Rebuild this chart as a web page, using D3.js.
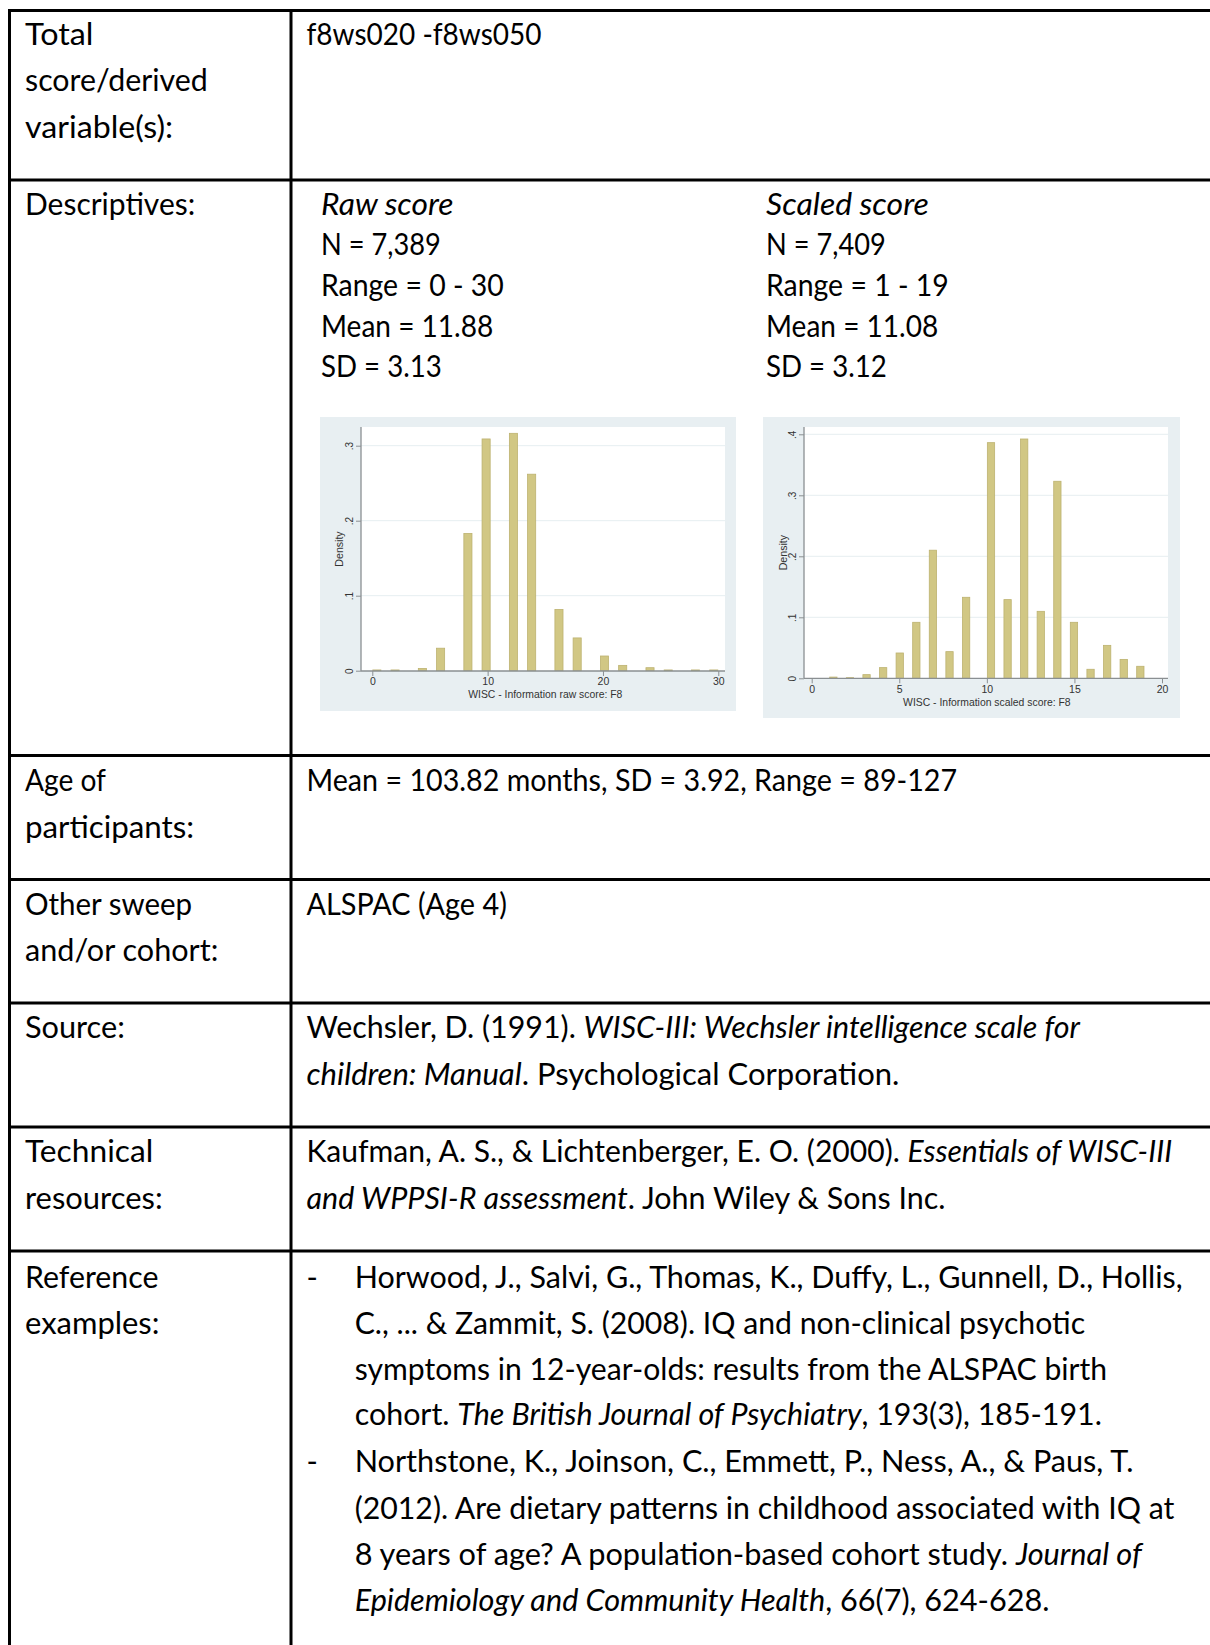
<!DOCTYPE html>
<html>
<head>
<meta charset="utf-8">
<script src="https://cdn.jsdelivr.net/npm/d3@7"></script>
<style>
  html, body { margin: 0; padding: 0; background: #fff; }
  svg { display: block; }
</style>
</head>
<body>
<svg id="page" width="1210" height="1645"></svg>
<script>
// ---------------- DATA ----------------
// Raw score histogram (Stata, 38 bins over 0-30): observed score values and bar densities
const rawScores  = [0, 2, 4, 6, 8, 10, 12, 14, 16, 18, 20, 22, 24, 26, 28, 30];
const rawDensity = [0.001, 0.001, 0.003, 0.030, 0.183, 0.309, 0.3165, 0.262, 0.0817, 0.0437, 0.0196, 0.0071, 0.004, 0.001, 0.001, 0.001];
const rawBinRange = [0, 30];
const rawBinCount = 38;
const rawXTicks = [0, 10, 20, 30];
const rawYTicks = [0, 0.1, 0.2, 0.3];
const rawXTitle = "WISC - Information raw score: F8";

// Scaled score histogram (38 bins over 1-19)
const scaledScores  = [1, 2, 3, 4, 5, 6, 7, 8, 9, 10, 11, 12, 13, 14, 15, 16, 17, 18, 19];
const scaledDensity = [0.002, 0.001, 0.006, 0.0175, 0.0415, 0.0918, 0.210, 0.0437, 0.1328, 0.3863, 0.129, 0.3923, 0.1098, 0.323, 0.0918, 0.0148, 0.054, 0.031, 0.0197];
const scaledBinRange = [1, 19];
const scaledBinCount = 38;
const scaledXTicks = [0, 5, 10, 15, 20];
const scaledYTicks = [0, 0.1, 0.2, 0.3, 0.4];
const scaledXTitle = "WISC - Information scaled score: F8";

const yTitle = "Density";

// ---------------- PAGE TEXT ----------------
const rawDesc    = ["N = 7,389", "Range = 0 - 30", "Mean = 11.88", "SD = 3.13"];
const scaledDesc = ["N = 7,409", "Range = 1 - 19", "Mean = 11.08", "SD = 3.12"];

// ---------------- LAYOUT ----------------
const svg = d3.select("#page");
const FONT = "Lato, 'Source Sans Pro', 'Noto Sans', sans-serif";
const CHARTFONT = "'Liberation Sans', Arial, sans-serif";
const K = 1210 / 1153; // preview-to-page factor used for measured line ends

const probe = svg.append("text").attr("font-family", FONT).attr("font-size", 27)
  .text("Horwood, J., Salvi, G., Thomas, K., Duffy, L., Gunnell, D., Hollis,");
const pw = probe.node().getComputedTextLength();
probe.remove();
const FS = Math.max(22, Math.min(32, 27 * 828 / pw));
const BASE = FS * 0.35;

// table lines
const colX = [9.5, 291];
const rowY = [10.5, 180, 755.5, 879.5, 1003, 1127, 1251];
const LW = 3;
const g = svg.append("g");
rowY.forEach(y => g.append("line").attr("x1", colX[0] - LW/2).attr("x2", 1210).attr("y1", y).attr("y2", y)
  .attr("stroke", "#000").attr("stroke-width", LW));
colX.forEach(x => g.append("line").attr("x1", x).attr("x2", x).attr("y1", rowY[0]).attr("y2", 1645)
  .attr("stroke", "#000").attr("stroke-width", LW));

// x: left, cy: visual centre, segs, endS: measured right end (preview px)
function textLine(x, cy, segs, endS) {
  const t = svg.append("text").attr("x", x).attr("y", cy + BASE)
    .attr("font-family", FONT).attr("font-size", FS).attr("fill", "#000");
  if (typeof segs === "string") segs = [[segs, false]];
  segs.forEach(([s, it]) => {
    t.append("tspan").attr("font-style", it ? "italic" : "normal").text(s);
  });
  if (endS) {
    const target = endS * K - x;
    const cur = t.node().getComputedTextLength();
    if (Math.abs(target - cur) / cur < 0.15) {
      t.attr("textLength", target).attr("lengthAdjust", "spacingAndGlyphs");
    }
  }
  return t;
}

const c1 = 25, c2 = 306.5;
// Row 1
textLine(c1, 34.6, "Total", 89);
textLine(c1, 80.8, "score/derived", 198);
textLine(c1, 127, "variable(s):", 165);
textLine(c2, 34.6, "f8ws020 -f8ws050", 516);
// Row 2
textLine(c1, 204.6, "Descriptives:", 186);
const descY = [204.6, 244.5, 285.4, 326.4, 366.2];
const rawEnds = [420, 480, 470, 421];
const scaledEnds = [844, 904, 894, 845];
textLine(321, descY[0], [["Raw score", true]], 432);
rawDesc.forEach((s, i) => textLine(321, descY[i + 1], s, rawEnds[i]));
textLine(766, descY[0], [["Scaled score", true]], 885);
scaledDesc.forEach((s, i) => textLine(766, descY[i + 1], s, scaledEnds[i]));
// Row 3
textLine(c1, 780.8, "Age of", 101); textLine(c1, 826.9, "participants:", 185);
textLine(c2, 780.8, "Mean = 103.82 months, SD = 3.92, Range = 89-127", 912);
// Row 4
textLine(c1, 904.6, "Other sweep", 183); textLine(c1, 950.8, "and/or cohort:", 208);
textLine(c2, 904.6, "ALSPAC (Age 4)", 483);
// Row 5
textLine(c1, 1027.4, "Source:", 119);
textLine(c2, 1027.4, [["Wechsler, D. (1991). ", false], ["WISC-III: Wechsler intelligence scale for", true]], 1029);
textLine(c2, 1074.6, [["children: Manual", true], [". Psychological Corporation.", false]], 857);
// Row 6
textLine(c1, 1151.2, "Technical", 146); textLine(c1, 1198.4, "resources:", 155);
textLine(c2, 1151.2, [["Kaufman, A. S., & Lichtenberger, E. O. (2000). ", false], ["Essentials of WISC-III", true]], 1117);
textLine(c2, 1198.4, [["and WPPSI-R assessment", true], [". John Wiley & Sons Inc.", false]], 901);
// Row 7
textLine(c1, 1277.1, "Reference", 151); textLine(c1, 1323.3, "examples:", 152);
const refX = 354.7;
const refLines = [
  [1277.1, [["Horwood, J., Salvi, G., Thomas, K., Duffy, L., Gunnell, D., Hollis,", false]], 1127],
  [1323.3, [["C., ... & Zammit, S. (2008). IQ and non-clinical psychotic", false]], 1034],
  [1369.5, [["symptoms in 12-year-olds: results from the ALSPAC birth", false]], 1055],
  [1414.6, [["cohort. ", false], ["The British Journal of Psychiatry", true], [", 193(3), 185-191.", false]], 1050],
  [1461.8, [["Northstone, K., Joinson, C., Emmett, P., Ness, A., & Paus, T.", false]], 1080],
  [1508.0, [["(2012). Are dietary patterns in childhood associated with IQ at", false]], 1119],
  [1554.2, [["8 years of age? A population-based cohort study. ", false], ["Journal of", true]], 1088],
  [1600.3, [["Epidemiology and Community Health", true], [", 66(7), 624-628.", false]], 1000]
];
refLines.forEach(([y, segs, e]) => textLine(refX, y, segs, e));
textLine(c2, 1277.1, "-"); textLine(c2, 1461.8, "-");

// ---------------- HISTOGRAMS ----------------
function histogram(cfg) {
  const gg = svg.append("g");
  gg.append("rect").attr("x", cfg.panel[0]).attr("y", cfg.panel[1])
    .attr("width", cfg.panel[2]).attr("height", cfg.panel[3]).attr("fill", "#e8eff2");
  const [px0, px1, py0, py1] = cfg.plot;
  gg.append("rect").attr("x", px0).attr("y", py0).attr("width", px1 - px0).attr("height", py1 - py0)
    .attr("fill", "#fff");

  const x = d3.scaleLinear().domain(cfg.xDomain).range(cfg.xRange);
  const y = d3.scaleLinear().domain(cfg.yDomain).range(cfg.yRange);

  gg.selectAll(".grid").data(cfg.yTicks.filter(d => d > 0)).join("line")
    .attr("x1", px0).attr("x2", px1).attr("y1", d => y(d)).attr("y2", d => y(d))
    .attr("stroke", "#e6eef1").attr("stroke-width", 1);

  const [lo, hi] = cfg.binRange;
  const w = (hi - lo) / cfg.binCount;
  const bars = cfg.scores.map((s, i) => {
    const k = Math.min(cfg.binCount - 1, Math.floor((s - lo) / w + 1e-9));
    return { x0: lo + k * w, x1: lo + (k + 1) * w, d: cfg.density[i] };
  });
  gg.selectAll(".bar").data(bars).join("rect")
    .attr("x", d => x(d.x0) + 0.5).attr("width", d => x(d.x1) - x(d.x0) - 1)
    .attr("y", d => y(d.d)).attr("height", d => y(0) - y(d.d))
    .attr("fill", "#d1c784").attr("stroke", "#bdb270").attr("stroke-width", 0.8);

  const axisColor = "#8a8f92";
  gg.append("line").attr("x1", px0).attr("x2", px0).attr("y1", py0).attr("y2", py1)
    .attr("stroke", axisColor).attr("stroke-width", 1.3);
  gg.append("line").attr("x1", px0).attr("x2", px1).attr("y1", py1).attr("y2", py1)
    .attr("stroke", axisColor).attr("stroke-width", 1.3);

  const yAx = gg.append("g").attr("transform", `translate(${px0},0)`)
    .call(d3.axisLeft(y).tickValues(cfg.yTicks).tickSize(5).tickPadding(4)
      .tickFormat(d => d === 0 ? "0" : d3.format(".1f")(d).replace(/^0/, "")));
  yAx.select(".domain").remove();
  yAx.selectAll(".tick line").attr("stroke", axisColor);
  yAx.selectAll(".tick text").attr("font-family", CHARTFONT).attr("font-size", 10).attr("fill", "#333")
    .attr("text-anchor", "middle").attr("x", null).attr("dy", null)
    .attr("transform", "translate(-12,0) rotate(-90)").attr("dominant-baseline", "central");

  const xAx = gg.append("g").attr("transform", `translate(0,${py1})`)
    .call(d3.axisBottom(x).tickValues(cfg.xTicks).tickSize(5).tickPadding(2).tickFormat(d3.format("d")));
  xAx.select(".domain").remove();
  xAx.selectAll(".tick line").attr("stroke", axisColor);
  xAx.selectAll(".tick text").attr("font-family", CHARTFONT).attr("font-size", 10.5).attr("fill", "#333");

  gg.append("text").attr("x", (cfg.xRange[0] + cfg.xRange[1]) / 2).attr("y", cfg.xTitleY)
    .attr("text-anchor", "middle").attr("font-family", CHARTFONT).attr("font-size", 10.4).attr("fill", "#333")
    .text(cfg.xTitle);
  gg.append("text").attr("transform", `translate(${cfg.yTitleX},${(py0 + py1) / 2}) rotate(-90)`)
    .attr("text-anchor", "middle").attr("dominant-baseline", "central")
    .attr("font-family", CHARTFONT).attr("font-size", 10.6).attr("fill", "#333").text(yTitle);
}

histogram({
  panel: [320, 417, 416, 294],
  plot: [361, 725, 427, 671],
  xDomain: [0, 30], xRange: [372.3, 718.3],
  yDomain: [0, 0.3], yRange: [670.7, 445.7],
  xTicks: rawXTicks, yTicks: rawYTicks,
  scores: rawScores, density: rawDensity, binRange: rawBinRange, binCount: rawBinCount,
  xTitle: rawXTitle, xTitleY: 697.5, yTitleX: 338.5
});
histogram({
  panel: [763, 417, 417, 301],
  plot: [804, 1168, 427, 678.3],
  xDomain: [0, 20], xRange: [811.7, 1162],
  yDomain: [0, 0.4], yRange: [678.3, 434.3],
  xTicks: scaledXTicks, yTicks: scaledYTicks,
  scores: scaledScores, density: scaledDensity, binRange: scaledBinRange, binCount: scaledBinCount,
  xTitle: scaledXTitle, xTitleY: 705.5, yTitleX: 782.5
});
</script>
</body>
</html>
